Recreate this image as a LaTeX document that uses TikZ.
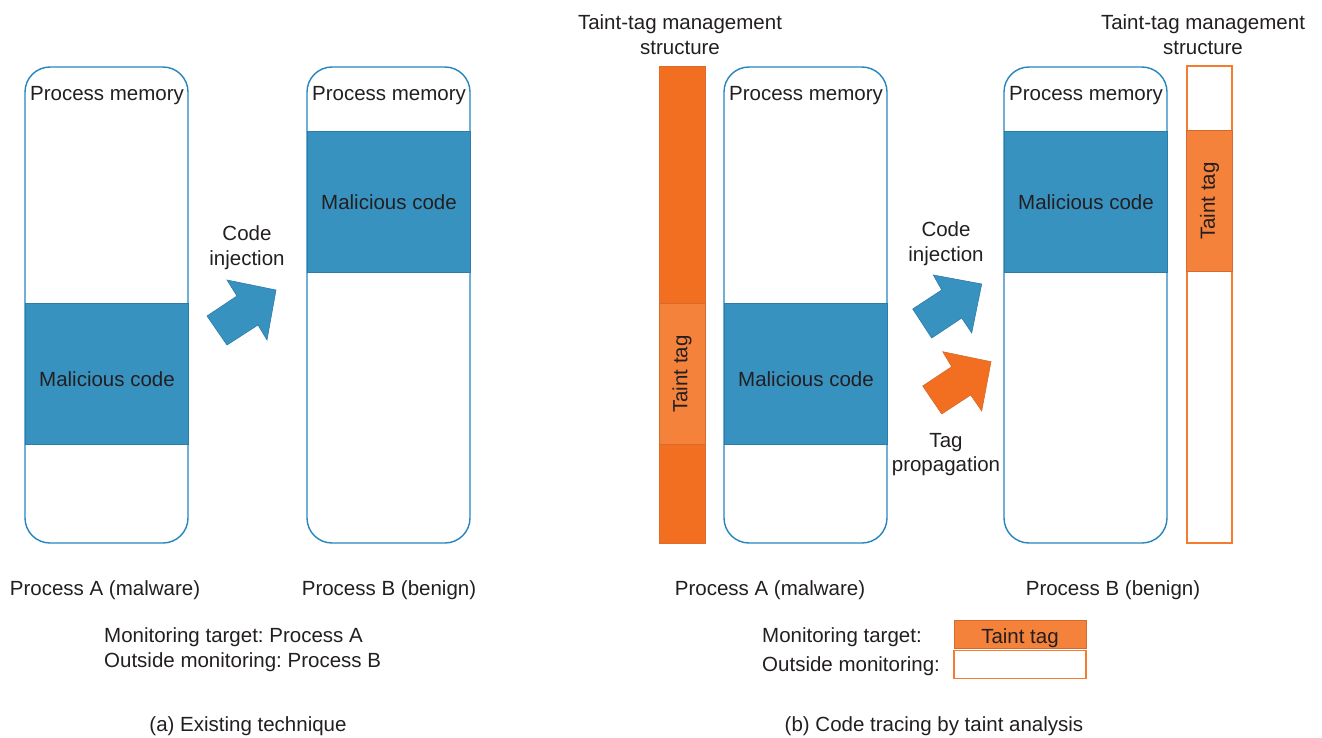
\documentclass[tikz,border=0pt]{standalone}
\usepackage{fontspec}
\setmainfont{Liberation Sans}
\frenchspacing
\definecolor{ink}{HTML}{231F20}
\definecolor{memblue}{HTML}{2585BF}
\definecolor{codeblue}{HTML}{3892C0}
\definecolor{codeedge}{HTML}{2D7BA8}
\definecolor{tagdark}{HTML}{F26F21}
\definecolor{taglight}{HTML}{F5823A}
\definecolor{tagedge}{HTML}{D46A2E}
\definecolor{tagline}{HTML}{F47B30}
\tikzset{
  basetxt/.style={font=\fontsize{20.5}{24.5}\selectfont, text=ink, inner sep=0pt, align=center},
  txt/.style={basetxt, yshift=-2.5pt},
  rtxt/.style={basetxt, rotate=90},
  membox/.style={draw=memblue, line width=1.4pt, fill=white, rounded corners=25pt,
    minimum width=163pt, minimum height=476pt, inner sep=0pt},
  codebox/.style={draw=codeedge, line width=0.8pt, fill=codeblue,
    minimum width=163pt, minimum height=141pt, inner sep=0pt},
  tagcol/.style={draw=tagedge!60!tagdark, line width=0.8pt, fill=tagdark,
    minimum width=46pt, minimum height=477pt, inner sep=0pt},
  tagcolempty/.style={draw=tagline, line width=1.4pt, fill=white,
    minimum width=45pt, minimum height=477pt, inner sep=0pt},
  tagbox/.style={draw=tagedge, line width=1pt, fill=taglight,
    minimum width=46pt, minimum height=141pt, inner sep=0pt},
  legendbox/.style={minimum width=132pt, minimum height=28pt, inner sep=0pt},
  bluearrow/.style={fill=codeblue, draw=codeedge, line width=0.6pt},
  orangearrow/.style={fill=tagdark, draw=tagedge, line width=0.6pt},
}
\begin{document}
\begin{tikzpicture}[x=1pt,y=-1pt]
\useasboundingbox (0,0) rectangle (1322,738);

% ---------- (a) Existing technique ----------
\node[membox] (memA) at (106.5,305) {};
\node[codebox] (codeA) at (106.5,374) {};
\node[txt] (memAlbl) at (107,93) {Process memory};
\node[txt] (codeAlbl) at (107,376.5) {Malicious code};

\node[membox] (memB) at (388.5,305) {};
\node[codebox] (codeB) at (388.5,201.5) {};
\node[txt] (memBlbl) at (389,93) {Process memory};
\node[txt] (codeBlbl) at (389,199.5) {Malicious code};

\draw[bluearrow] (207,316) -- (237,296) -- (227,280) -- (276,290) -- (267,340) -- (258,325) -- (227,345) -- cycle;
\node[txt] (injA) at (247,245) {Code\\injection};

\node[txt] (procA) at (105,588) {Process A (malware)};
\node[txt] (procB) at (389,588) {Process B (benign)};
\node[txt, anchor=west, align=left] (legA) at (104,647) {Monitoring target: Process A\\Outside monitoring: Process B};
\node[txt] (capA) at (248,724) {(a) Existing technique};

% ---------- (b) Code tracing by taint analysis ----------
\node[tagcol] (colA) at (682,304.5) {};
\node[tagbox] (tagA) at (682,374) {};
\node[rtxt] (tagAlbl) at (682,374) {Taint tag};
\node[txt] (structA) at (680,32) {Taint-tag management\\structure};

\node[membox] (memA2) at (805.5,305) {};
\node[codebox] (codeA2) at (805.5,374) {};
\node[txt] (memA2lbl) at (806,93) {Process memory};
\node[txt] (codeA2lbl) at (806,376.5) {Malicious code};

\node[membox] (memB2) at (1085.5,305) {};
\node[codebox] (codeB2) at (1085.5,201.5) {};
\node[txt] (memB2lbl) at (1086,93) {Process memory};
\node[txt] (codeB2lbl) at (1086,199.5) {Malicious code};

\node[tagcolempty] (colB) at (1209.5,304.5) {};
\node[tagbox] (tagB) at (1209.5,201) {};
\node[rtxt] (tagBlbl) at (1209.5,201) {Taint tag};
\node[txt] (structB) at (1203,32) {Taint-tag management\\structure};

\draw[bluearrow] (912.7,309) -- (941.7,290) -- (933.3,275) -- (981.7,284) -- (971.7,333) -- (961.7,318) -- (931.7,338) -- cycle;
\draw[orangearrow] (922.7,386) -- (951.7,366.7) -- (942.7,351.7) -- (991,361.7) -- (981.7,411) -- (970.7,395) -- (941.7,414) -- cycle;
\node[txt] (injB) at (946,241) {Code\\injection};
\node[txt] (propB) at (946,452) {Tag\\propagation};

\node[txt] (procA2) at (770,588) {Process A (malware)};
\node[txt] (procB2) at (1113,588) {Process B (benign)};

\node[txt, anchor=west] (legT) at (762,635) {Monitoring target:};
\node[txt, anchor=west] (legO) at (762,664) {Outside monitoring:};
\node[legendbox, draw=tagedge, line width=1pt, fill=taglight] (legTbox) at (1020,634) {};
\node[txt] at (1020,635.5) {Taint tag};
\node[legendbox, draw=tagline, line width=1.4pt, fill=white] (legObox) at (1020,664.5) {};
\node[txt] (capB) at (934,724) {(b) Code tracing by taint analysis};
\end{tikzpicture}
\end{document}
